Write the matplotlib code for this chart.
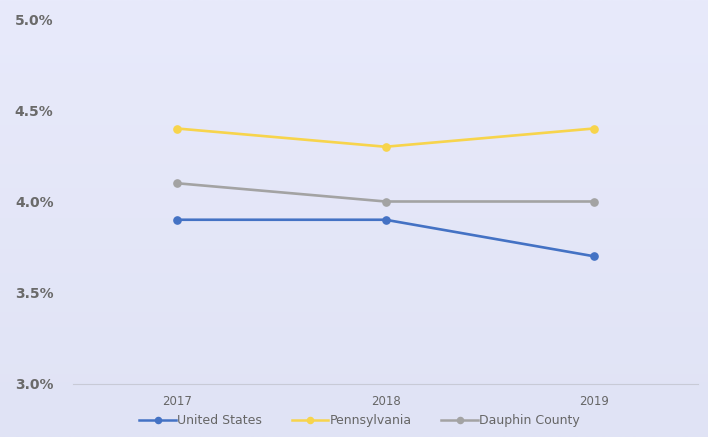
import matplotlib
matplotlib.use("Agg")
import matplotlib.pyplot as plt
import numpy as np
from matplotlib.ticker import FuncFormatter

years = ["2017", "2018", "2019"]
united_states = [3.9, 3.9, 3.7]
pennsylvania = [4.4, 4.3, 4.4]
dauphin_county = [4.1, 4.0, 4.0]
y_ticks = [3.0, 3.5, 4.0, 4.5, 5.0]

plt.rcParams['font.family'] = ['DejaVu Sans']

fig = plt.figure(figsize=(7.08, 4.37), dpi=100)
# background gradient
bg = fig.add_axes([0, 0, 1, 1], zorder=-10)
grad = np.linspace(0, 1, 256).reshape(-1, 1)
top = np.array([232, 234, 251]) / 255
bot = np.array([224, 227, 245]) / 255
img = top[None, None, :] * (1 - grad[:, :, None]) + bot[None, None, :] * grad[:, :, None]
bg.imshow(img, aspect='auto', extent=[0, 1, 0, 1])
bg.axis('off')

ax = fig.add_axes([0.1031, 0.1213, 0.8828, 0.8352])
ax.patch.set_alpha(0)
x = np.arange(len(years))
ax.plot(x, united_states, color='#4472C4', lw=1.9, marker='o', ms=5.2, label='United States')
ax.plot(x, pennsylvania, color='#F7D44C', lw=1.9, marker='o', ms=5.2, label='Pennsylvania')
ax.plot(x, dauphin_county, color='#A3A3A3', lw=1.9, marker='o', ms=5.2, label='Dauphin County')

ax.set_xlim(-0.5, 2.5)
ax.set_ylim(3.0, 5.0)
ax.set_yticks(y_ticks)
ax.yaxis.set_major_formatter(FuncFormatter(lambda v, p: f"{v:.1f}%"))
ax.set_xticks(x)
ax.set_xticklabels(years)
for s in ['top', 'right', 'left']:
    ax.spines[s].set_visible(False)
ax.spines['bottom'].set_color('#C8CAD6')
ax.spines['bottom'].set_linewidth(0.8)
ax.tick_params(axis='both', length=0)
ax.tick_params(axis='y', labelsize=10, labelcolor='#6A6A6A', pad=14)
ax.tick_params(axis='x', labelsize=8.5, labelcolor='#666666', pad=8)
for t in ax.get_yticklabels():
    t.set_fontweight('bold')

leg = ax.legend(loc='center', bbox_to_anchor=(0.4585, -0.1), ncol=3, frameon=False,
                fontsize=9, handlelength=2.9, columnspacing=2.4, handletextpad=0.1,
                markerscale=0.85)
for t in leg.get_texts():
    t.set_color('#666666')
for l in leg.get_lines():
    l.set_linewidth(1.8)

fig.savefig('out.png', dpi=100)
